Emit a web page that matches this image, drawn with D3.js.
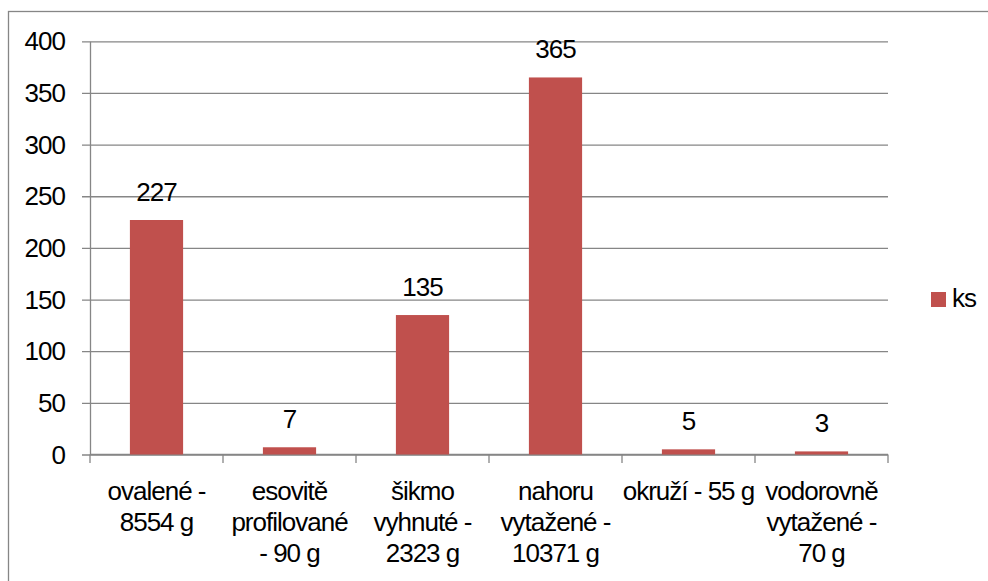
<!DOCTYPE html>
<html>
<head>
<meta charset="utf-8">
<script src="https://cdn.jsdelivr.net/npm/d3@7"></script>
<style>
  body { margin: 0; background: #fff; }
  svg text { font-family: "Liberation Sans", Arial, sans-serif; font-size: 26px; letter-spacing: -1px; fill: #000; }
</style>
</head>
<body>
<svg id="chart" width="988" height="581"></svg>
<script>
// data
const categories = [
  ['ovalené -', '8554 g'],
  ['esovitě', 'profilované', '- 90 g'],
  ['šikmo', 'vyhnuté -', '2323 g'],
  ['nahoru', 'vytažené -', '10371 g'],
  ['okruží - 55 g'],
  ['vodorovně', 'vytažené -', '70 g']
];
const values = [227, 7, 135, 365, 5, 3];
const yTicks = [0, 50, 100, 150, 200, 250, 300, 350, 400];
const seriesName = 'ks';

const barColor = '#C0504D';
const lineColor = '#868686';
const plot = { left: 90, right: 888, top: 41.3, bottom: 454.5 };

const svg = d3.select('#chart');

// outer chart frame, runs off the right and bottom edges
svg.append('rect')
  .attr('x', 8.5).attr('y', 11.5)
  .attr('width', 1000).attr('height', 600)
  .attr('fill', 'none')
  .attr('stroke', lineColor)
  .attr('stroke-width', 1.3);

const keys = categories.map((d, i) => i);

const x = d3.scaleBand()
  .domain(keys)
  .range([plot.left, plot.right])
  .paddingInner(0.6)
  .paddingOuter(0.3);

const y = d3.scaleLinear()
  .domain([0, 400])
  .range([plot.bottom, plot.top]);

// y axis + gridlines
const yAxis = svg.append('g')
  .attr('transform', 'translate(' + plot.left + ',0)')
  .call(d3.axisLeft(y).tickValues(yTicks).tickSizeInner(-(plot.right - plot.left)).tickSizeOuter(0).tickPadding(25));

yAxis.select('.domain').attr('stroke', lineColor).attr('stroke-width', 1.3);
yAxis.selectAll('.tick line')
  .attr('x1', -8)
  .attr('stroke', lineColor)
  .attr('stroke-width', 1.3);
yAxis.selectAll('.tick text')
  .attr('dy', '0.33em')
  .attr('fill', '#000');
yAxis.attr('font-size', null).attr('font-family', null);

// x axis line and boundary ticks
const xAxis = svg.append('g');
xAxis.append('line')
  .attr('x1', plot.left).attr('x2', plot.right)
  .attr('y1', y(0)).attr('y2', y(0))
  .attr('stroke', lineColor).attr('stroke-width', 1.3);

const bounds = d3.range(categories.length + 1).map(i => x.range()[0] + i * x.step());
xAxis.selectAll('.xtick')
  .data(bounds)
  .join('line')
  .attr('class', 'xtick')
  .attr('x1', d => d).attr('x2', d => d)
  .attr('y1', y(0)).attr('y2', y(0) + 8.5)
  .attr('stroke', lineColor).attr('stroke-width', 1.3);

// category labels
const labels = svg.append('g')
  .selectAll('text')
  .data(categories)
  .join('text')
  .attr('text-anchor', 'middle');

labels.selectAll('tspan')
  .data((d, i) => d.map(line => ({ line, i })))
  .join('tspan')
  .attr('x', d => x(d.i) + x.bandwidth() / 2)
  .attr('y', (d, j) => 500 + j * 31)
  .text(d => d.line);

// bars
svg.append('g')
  .selectAll('rect')
  .data(values)
  .join('rect')
  .attr('x', (d, i) => x(i))
  .attr('y', d => y(d))
  .attr('width', x.bandwidth())
  .attr('height', d => y(0) - y(d))
  .attr('fill', barColor);

// value labels
svg.append('g')
  .selectAll('text')
  .data(values)
  .join('text')
  .attr('text-anchor', 'middle')
  .attr('x', (d, i) => x(i) + x.bandwidth() / 2)
  .attr('y', d => y(d) - 19)
  .text(d => d);

// legend
const legend = svg.append('g').attr('transform', 'translate(931,292)');
legend.append('rect')
  .attr('width', 15).attr('height', 15)
  .attr('fill', barColor);
legend.append('text')
  .attr('x', 21).attr('y', 15)
  .text(seriesName);
</script>
</body>
</html>
